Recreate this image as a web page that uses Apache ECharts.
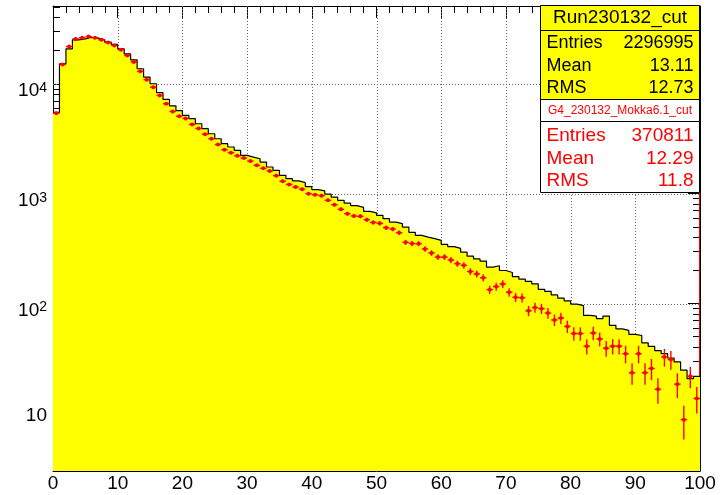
<!DOCTYPE html>
<html><head><meta charset="utf-8">
<script src="https://cdn.jsdelivr.net/npm/echarts@6/dist/echarts.min.js"></script>
<style>html,body{margin:0;padding:0;background:#fff}#c{width:721px;height:495px}</style>
</head><body><div id="c"></div>
<script>
const FONT = "'Liberation Sans', Arial, Helvetica, sans-serif";

// Data histogram (yellow, Run230132_cut): bin contents, bins of width 1 from 0 to 100
const yellowHist = [5500,15200,20800,25100,25600,26500,26000,25100,23900,22800,
 20800,18700,16500,13700,11500,10000,8300,7200,6300,5700,
 5150,4810,4330,3900,3510,3160,2850,2660,2480,2230,
 2150,2080,1940,1750,1630,1470,1370,1310,1260,1160,
 1090,1060,990,930,870,820,780,750,690,670,
 635,593,552,534,497,445,418,403,390,376,
 346,330,318,294,270,255,244,215,221,200,
 192,176,167,159,151,135,129,120,112,106,
 99,96,78,77,73,77,63.5,59,57,52.4,
 51.3,44,40.8,37.4,35,32,29.5,24.8,20.8,21.8];

// Simulation histogram (red points, G4_230132_Mokka6.1_cut)
const redHist = [5400,15000,21800,25600,26200,26900,26200,25100,23700,22300,
 20400,18100,15800,13000,10900,9310,7840,6580,5600,5070,
 4840,4270,3920,3480,3160,2800,2510,2360,2210,2110,
 1980,1810,1700,1610,1460,1300,1215,1150,1100,1000,
 980,960,870,794,720,658,627,622,580,548,
 537,491,477,442,361,352,351,314,289,265,
 265,249,231,223,196,186,172,134,143,151,
 127,114,113,86,92,90,82,71,74,62,
 53.4,53.4,41,54,47.7,39.3,41,41,35,23.5,
 35,23.5,25.7,16.6,32.7,31,18.5,8.8,21.8,13.7];

// Error bar half-lengths of the red points
const redErr = [74,123,148,160,162,164,162,158,154,149,
 143,135,126,114,104,96,89,81,75,71,
 70,65,63,59,56,53,50,49,47,46,
 44,43,41,40,38,36,35,34,33,32,
 31,31,29.5,28,27,25.7,25,25,24,23.4,
 23.2,22.2,21.8,21,19,18.8,18.7,17.7,17,16.3,
 16.3,15.8,15.2,14.9,14,13.6,13.1,11.6,12,12.3,
 11.3,10.7,10.6,9.3,9.6,9.5,9.1,8.5,8.7,8,
 7.5,7.5,6.5,7.5,7,6.5,6.5,6.5,6.4,5.2,
 6.4,5.2,5.6,4.3,6,6,4.7,3.0,4.8,3.7];

const X_MIN = 0, X_MAX = 100, BIN_W = 1;
const Y_MIN = 3, Y_MAX = 51000;
const xGrid = [10, 20, 30, 40, 50, 60, 70, 80, 90];
const yMajor = [10, 100, 1000, 10000];
const yMinor = [3,4,5,6,7,8,9,20,30,40,50,60,70,80,90,200,300,400,500,600,700,800,900,
  2000,3000,4000,5000,6000,7000,8000,9000,20000,30000,40000,50000];

const statsTitle = 'Run230132_cut';
const statsDataLabels = ['Entries', 'Mean', 'RMS'];
const statsDataValues = ['2296995', '13.11', '12.73'];
const statsSimTitle = 'G4_230132_Mokka6.1_cut';
const statsSimValues = ['370811', '12.29', '11.8'];

// build series data
const histLine = yellowHist.map((v, i) => [X_MIN + i * BIN_W, v]);
histLine.push([X_MAX, yellowHist[yellowHist.length - 1]]);
const redPts = redHist.map((v, i) => [X_MIN + (i + 0.5) * BIN_W, v, redErr[i]]);
// grid line anchors: vertical lines at xGrid, horizontal lines at yMajor
const gridAnchors = xGrid.map(v => [v, 1000, 0]).concat(yMajor.map(v => [50, v, 1]));

const chart = echarts.init(document.getElementById('c'), null, {renderer: 'canvas'});

const GRID_STYLE = {stroke: '#666', lineWidth: 1, lineDash: [1, 2]};
const logAxisBase = {type: 'log', logBase: 10, min: Y_MIN, max: Y_MAX,
  axisLabel: {show: false}, splitLine: {show: false}, axisLine: {show: false}, axisTick: {show: false}};

const texts = [];
function txt(x, y, s, size, color, align) {
  texts.push({type: 'text', x: x, y: y, z: 101,
    style: {text: s, font: size + 'px ' + FONT, fill: color,
      align: align, verticalAlign: 'middle', textAlign: align, textVerticalAlign: 'middle'}});
}
txt(620, 17.5, statsTitle, 19, '#000', 'center');
const blackY = [42.7, 65.7, 88.3];
statsDataLabels.forEach((l, i) => { txt(546.5, blackY[i], l, 18, '#000', 'left'); txt(693.5, blackY[i], statsDataValues[i], 18, '#000', 'right'); });
txt(620, 110.5, statsSimTitle, 12, '#ff0000', 'center');
const redY = [136, 158.3, 181];
statsDataLabels.forEach((l, i) => { txt(546.5, redY[i], l, 19, '#ff0000', 'left'); txt(693.5, redY[i], statsSimValues[i], 19, '#ff0000', 'right'); });

const option = {
  animation: false,
  backgroundColor: '#fff',
  grid: {left: 53, right: 21, top: 6, bottom: 24, containLabel: false},
  xAxis: [
    {type: 'value', position: 'bottom', min: X_MIN, max: X_MAX, interval: 10, z: 5,
      axisLine: {show: true, lineStyle: {color: '#000', width: 1}},
      axisTick: {show: false}, splitLine: {show: false},
      axisLabel: {show: true, margin: 3, color: '#000', fontSize: 19, fontFamily: FONT}},
    {type: 'value', position: 'top', min: X_MIN, max: X_MAX, interval: 10, z: 0,
      axisLine: {show: true, lineStyle: {color: '#000', width: 1}},
      axisTick: {show: true, inside: true, length: 12, lineStyle: {color: '#000'}},
      minorTick: {show: true, splitNumber: 5, length: 7, lineStyle: {color: '#000'}},
      axisLabel: {show: false}, splitLine: {show: false}}
  ],
  yAxis: [
    Object.assign({}, logAxisBase, {position: 'left', z: 0,
      axisLine: {show: true, lineStyle: {color: '#000'}},
      axisTick: {show: true, inside: true, length: 12, customValues: yMajor, lineStyle: {color: '#000'}},
      axisLabel: {show: true, margin: 6, customValues: yMajor, color: '#000', fontFamily: FONT,
        formatter: function (v) {
          const e = Math.round(Math.log10(v));
          if (e === 1) return '{t|10}';
          return '{b|10}{s|' + e + '}';
        },
        rich: {
          t: {fontSize: 19, fontFamily: FONT, color: '#000', padding: [4, 0, 0, 0]},
          b: {fontSize: 19, fontFamily: FONT, color: '#000', padding: [14, 0, 0, 0]},
          s: {fontSize: 14, fontFamily: FONT, color: '#000', padding: [8, 0, 0, 0]}
        }}}),
    Object.assign({}, logAxisBase, {position: 'left', z: 0,
      axisTick: {show: true, inside: true, length: 7, customValues: yMinor, lineStyle: {color: '#000'}}}),
    Object.assign({}, logAxisBase, {position: 'right', z: 0,
      axisTick: {show: true, inside: true, length: 12, customValues: yMajor, lineStyle: {color: '#000'}}}),
    Object.assign({}, logAxisBase, {position: 'right', z: 0,
      axisTick: {show: true, inside: true, length: 7, customValues: yMinor, lineStyle: {color: '#000'}}}),
    Object.assign({}, logAxisBase, {position: 'right', z: 5,
      axisLine: {show: true, lineStyle: {color: '#000'}}})
  ],
  series: [
    // dotted grid lines placed through the axes' scales, under the histogram
    {type: 'custom', name: 'grid', xAxisIndex: 0, yAxisIndex: 0, z: 1, silent: true, clip: false,
      data: gridAnchors, encode: {x: 0, y: 1},
      renderItem: function (params, api) {
        const cs = params.coordSys;
        const p = api.coord([api.value(0), api.value(1)]);
        if (api.value(2) === 0) {
          const x = Math.round(p[0]) + 0.5;
          return {type: 'line', shape: {x1: x, y1: cs.y, x2: x, y2: cs.y + cs.height}, style: GRID_STYLE};
        }
        const y = Math.round(p[1]) + 0.5;
        return {type: 'line', shape: {x1: cs.x, y1: y, x2: cs.x + cs.width, y2: y}, style: GRID_STYLE};
      }},
    {type: 'line', name: statsTitle, xAxisIndex: 0, yAxisIndex: 0, data: histLine,
      step: 'end', symbol: 'none', z: 2,
      lineStyle: {color: '#000', width: 1.2},
      areaStyle: {color: '#ffff00', opacity: 1, origin: 'start'}},
    {type: 'custom', name: statsSimTitle, xAxisIndex: 0, yAxisIndex: 0, data: redPts, z: 3,
      encode: {x: 0, y: 1},
      renderItem: function (params, api) {
        const x = api.value(0), v = api.value(1), e = api.value(2);
        const pL = api.coord([x - BIN_W / 2, v]);
        const pR = api.coord([x + BIN_W / 2, v]);
        const pT = api.coord([x, Math.min(v + e, Y_MAX)]);
        const pB = api.coord([x, Math.max(v - e, Y_MIN)]);
        const cx = (pL[0] + pR[0]) / 2;
        return {type: 'group', children: [
          {type: 'line', shape: {x1: pL[0], y1: pL[1], x2: pR[0], y2: pR[1]}, style: {stroke: '#ff0000', lineWidth: 1.4}},
          {type: 'line', shape: {x1: cx, y1: pT[1], x2: cx, y2: pB[1]}, style: {stroke: '#ff0000', lineWidth: 1.4}},
          {type: 'circle', shape: {cx: cx, cy: pL[1], r: 2}, style: {fill: '#ff0000'}}
        ]};
      },
      markLine: {silent: true, symbol: 'none', label: {show: false},
        lineStyle: {color: '#ff0000', width: 2, type: 'solid'},
        data: [[{coord: [X_MAX, Y_MAX]}, {coord: [X_MAX, 22]}]]}
    }
  ],
  graphic: [
    {type: 'rect', z: 100, shape: {x: 540.5, y: 5.5, width: 159, height: 94}, style: {fill: '#ffff00', stroke: '#000', lineWidth: 1}},
    {type: 'line', z: 100, shape: {x1: 540.5, y1: 30.5, x2: 699.5, y2: 30.5}, style: {stroke: '#000', lineWidth: 1}},
    {type: 'rect', z: 100, shape: {x: 540.5, y: 99.5, width: 159, height: 22}, style: {fill: '#fff', stroke: '#000', lineWidth: 1}},
    {type: 'rect', z: 100, shape: {x: 540.5, y: 121.5, width: 159, height: 71}, style: {fill: '#fff', stroke: '#000', lineWidth: 1}}
  ].concat(texts)
};
chart.setOption(option);
</script>
</body></html>
